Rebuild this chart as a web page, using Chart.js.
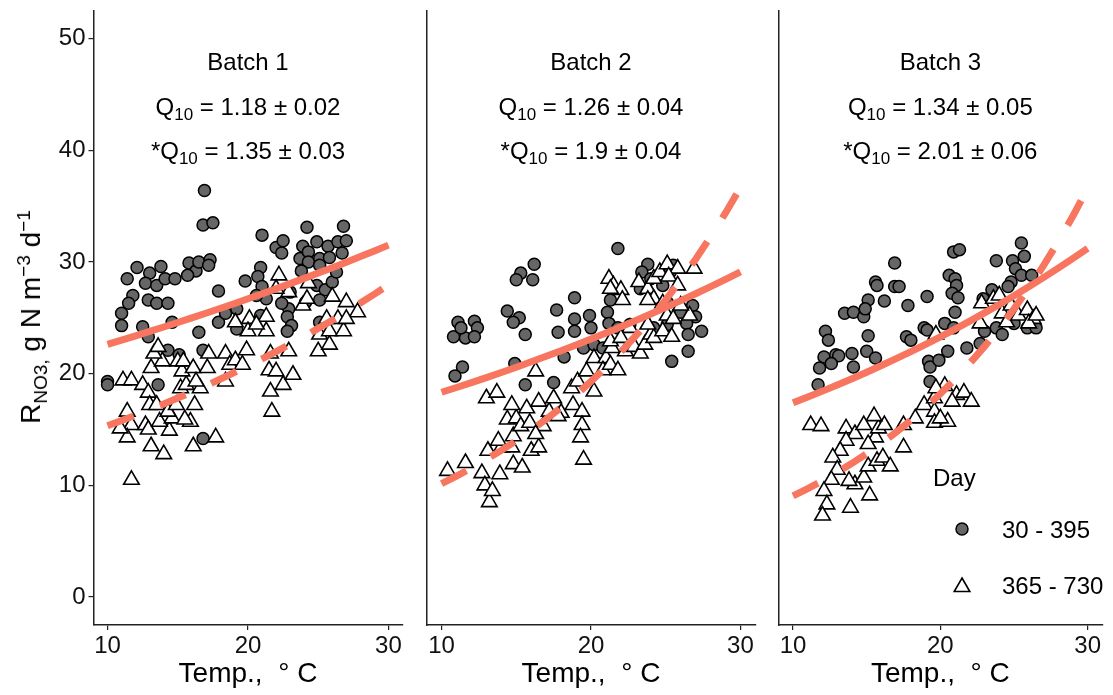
<!DOCTYPE html>
<html>
<head>
<meta charset="utf-8">
<title>Nitrate removal vs temperature</title>
<script src="https://cdn.jsdelivr.net/npm/chart.js@4.4.1/dist/chart.umd.min.js"></script>
<style>
  body { margin: 0; background: #fff; }
  #wrap { position: relative; width: 1113px; height: 695px; font-family: "Liberation Sans", Arial, sans-serif; overflow: hidden; }
  #wrap canvas { position: absolute; top: 0; }
  #ytitle {
    position: absolute; left: 31px; top: 317px;
    transform: translate(-50%, -50%) rotate(-90deg);
    white-space: nowrap; font-size: 28px; color: #000;
  }
  #ytitle sub, #ytitle sup { font-size: 19px; line-height: 0; }
</style>
</head>
<body>
<div id="wrap">
  <canvas id="batch1" width="416" height="695" style="left:0px"></canvas>
  <canvas id="batch2" width="350" height="695" style="left:416px"></canvas>
  <canvas id="batch3" width="347" height="695" style="left:766px"></canvas>
  <div id="ytitle">R<sub>NO3,</sub> g N m<sup>&minus;3</sup> d<sup>&minus;1</sup></div>
</div>
<script>
// temperature (°C), removal rate (g N m-3 d-1) pairs per batch
// "early" = days 30 - 395, "late" = days 365 - 730
const batch1Early = [[16.9,36.4],[16.8,33.3],[17.5,33.5],[21.0,32.4],[24.2,33.1],[26.8,33.2],[22.0,31.3],[22.5,31.9],[22.4,30.8],[23.9,31.4],[24.9,31.8],[25.7,31.4],[26.4,31.8],[27.0,31.9],[23.7,30.3],[24.3,30.9],[25.1,30.3],[25.8,30.4],[26.7,30.8],[24.3,30.0],[25.1,29.7],[12.1,29.5],[11.4,28.5],[13.0,29.0],[13.8,29.6],[12.7,28.1],[13.5,27.9],[14.1,28.5],[14.8,28.5],[15.8,29.9],[16.3,29.2],[15.7,28.8],[16.5,30.0],[17.3,30.2],[17.2,29.7],[11.8,27.0],[11.5,26.3],[11.0,25.4],[11.0,24.3],[12.9,26.6],[13.5,26.3],[14.3,26.3],[14.6,24.6],[12.5,24.2],[12.9,23.3],[14.3,22.1],[15.1,21.7],[16.8,22.1],[16.5,23.7],[17.9,27.4],[17.9,24.6],[18.4,25.4],[19.8,28.3],[20.9,29.5],[20.7,28.7],[21.0,27.8],[21.3,26.7],[20.6,27.0],[19.2,25.8],[19.2,24.0],[20.9,25.2],[22.9,25.8],[22.8,25.1],[23.1,24.3],[22.8,23.8],[22.4,26.3],[23.0,27.3],[23.8,29.2],[24.9,27.9],[25.5,27.5],[26.0,28.2],[26.3,29.1],[25.1,26.6],[25.1,24.6],[24.1,26.4],[10.0,19.3],[10.0,19.0],[13.6,19.0],[16.8,14.2]];
const batch1Late = [[11.7,10.5],[11.1,19.4],[11.7,19.4],[11.4,16.6],[11.7,15.4],[11.4,14.3],[10.9,15.1],[13.1,20.5],[13.9,21.1],[13.3,21.8],[13.6,22.4],[12.5,19.0],[12.9,18.3],[13.0,17.2],[13.5,17.2],[12.7,15.4],[12.9,15.0],[13.1,13.5],[14.0,12.8],[14.4,14.9],[13.7,15.7],[14.6,16.0],[14.3,16.6],[14.9,17.2],[15.2,18.7],[15.6,19.0],[15.3,20.2],[15.0,21.1],[15.4,21.1],[16.1,20.5],[16.6,18.7],[16.2,17.2],[15.9,15.7],[15.5,15.9],[16.1,13.5],[16.3,19.3],[17.1,20.5],[17.2,21.8],[17.7,14.3],[18.4,21.8],[18.4,19.3],[18.7,20.8],[19.1,21.2],[19.9,22.1],[19.6,20.8],[19.1,24.6],[20.1,24.9],[20.0,23.8],[21.3,25.1],[21.3,23.8],[20.6,24.4],[22.2,28.8],[22.9,27.3],[22.0,27.6],[21.6,21.8],[21.5,20.3],[21.6,18.4],[21.7,16.6],[22.0,20.2],[22.5,19.0],[23.2,19.9],[22.9,22.0],[23.9,26.1],[24.3,28.1],[24.2,26.7],[25.1,23.5],[25.0,22.0],[25.8,22.6],[26.0,26.9],[25.8,23.8],[26.8,23.8],[27.0,26.4],[27.8,25.5],[26.4,24.9],[27.0,24.9],[25.6,24.9]];

const batch2Early = [[21.8,31.2],[16.2,29.8],[15.3,29.0],[15.0,28.4],[16.1,28.4],[18.9,26.8],[17.7,25.7],[18.9,24.9],[19.9,25.2],[20.0,24.1],[18.9,23.8],[17.8,23.7],[15.6,23.5],[14.4,25.6],[15.2,25.0],[14.8,24.6],[11.1,24.6],[12.2,24.7],[12.4,24.1],[11.6,23.2],[10.8,23.3],[12.2,23.3],[11.3,24.1],[11.4,20.6],[10.9,19.8],[14.9,20.9],[15.6,19.0],[17.5,19.2],[18.2,21.5],[19.5,22.3],[20.2,22.6],[20.8,22.3],[21.1,25.5],[21.3,26.6],[21.2,24.5],[21.8,24.1],[22.6,24.4],[23.8,29.8],[23.4,29.1],[24.0,28.5],[23.3,27.6],[24.8,27.9],[25.3,29.1],[25.5,29.7],[25.1,26.4],[26.0,25.5],[26.8,26.1],[27.0,25.1],[26.4,24.5],[27.4,23.8],[26.5,23.5],[26.5,22.0],[25.4,21.1],[25.1,24.4],[24.2,24.1]];
const batch2Late = [[13.2,8.5],[10.4,11.3],[11.6,12.0],[12.7,11.1],[12.9,10.0],[13.4,9.5],[13.9,11.0],[13.1,13.1],[14.0,13.4],[14.8,11.9],[15.4,11.6],[14.7,13.4],[13.8,14.0],[14.8,14.4],[16.0,13.1],[16.5,13.4],[14.4,15.9],[15.0,16.0],[15.3,15.3],[15.9,15.6],[16.8,15.3],[16.3,14.6],[13.0,17.8],[13.7,18.3],[14.7,17.2],[15.7,16.9],[16.5,17.5],[17.2,16.6],[17.5,17.8],[18.0,16.5],[18.8,17.2],[18.7,18.7],[19.1,19.3],[20.2,18.4],[16.3,20.2],[19.4,16.6],[19.4,15.4],[19.3,14.3],[19.5,12.3],[17.8,16.2],[19.7,20.2],[20.2,21.4],[21.0,21.4],[20.8,20.3],[21.3,20.8],[21.8,20.3],[21.4,22.3],[21.3,22.9],[22.3,22.0],[22.9,22.4],[23.3,21.8],[23.6,22.6],[24.0,23.5],[24.2,23.2],[24.8,23.8],[25.4,23.3],[23.8,24.4],[22.6,24.1],[22.0,23.2],[21.2,28.5],[21.5,27.9],[22.0,27.5],[22.1,26.6],[21.3,27.6],[23.2,28.2],[23.8,27.6],[24.2,28.5],[24.6,29.1],[25.1,29.8],[25.8,29.4],[26.9,29.4],[25.2,28.7],[25.8,27.9],[24.2,26.7],[24.8,26.3],[23.8,26.6],[25.1,25.2],[25.5,24.9],[26.6,25.2],[26.0,26.1]];

const batch3Early = [[25.5,31.7],[25.7,30.5],[23.8,30.1],[20.9,30.9],[21.3,31.1],[16.9,29.9],[15.6,28.2],[15.7,27.9],[16.9,27.8],[17.2,27.8],[15.1,26.6],[16.2,26.5],[17.8,26.1],[19.1,26.9],[13.5,25.4],[14.1,25.5],[14.8,25.1],[14.9,25.8],[20.6,28.8],[21.0,28.5],[21.1,27.9],[20.8,27.2],[21.2,26.8],[21.0,25.5],[20.3,24.5],[20.9,24.1],[24.9,30.1],[25.1,29.4],[24.8,28.2],[25.5,28.8],[26.2,28.8],[24.6,27.8],[23.5,27.5],[22.9,26.7],[24.0,26.7],[12.2,23.8],[12.4,23.0],[15.1,23.4],[17.7,23.3],[18.0,23.0],[18.9,24.1],[19.1,23.9],[12.1,21.5],[11.8,20.5],[11.7,19.0],[12.9,21.7],[13.1,21.6],[14.0,21.8],[14.1,20.6],[15.0,22.0],[15.6,21.4],[12.6,20.9],[19.2,21.1],[19.3,20.6],[19.9,21.2],[20.5,22.0],[21.8,22.3],[22.7,22.7],[23.0,23.8],[23.8,24.1],[24.2,23.5],[25.0,24.5],[25.9,24.1],[26.5,24.1],[19.3,19.3]];
const batch3Late = [[11.2,15.4],[11.9,15.3],[13.6,15.1],[14.2,14.6],[13.6,14.0],[13.2,13.1],[12.7,12.5],[13.0,11.4],[12.6,10.5],[12.1,9.5],[12.3,8.3],[13.9,8.0],[15.2,9.1],[14.2,10.1],[13.8,10.4],[14.8,10.7],[15.1,11.7],[15.7,12.2],[16.1,12.5],[16.6,11.7],[15.6,14.3],[15.1,13.7],[15.8,15.1],[16.2,15.4],[15.5,16.2],[14.8,15.4],[17.5,15.4],[17.5,13.4],[18.3,16.0],[18.9,17.2],[19.6,16.6],[19.6,15.6],[20.5,15.7],[20.0,16.0],[19.6,17.8],[20.3,18.9],[21.1,18.1],[21.6,18.3],[22.1,17.5],[20.8,17.5],[19.7,18.7],[22.8,26.3],[22.7,24.5],[23.6,26.7],[24.0,27.0],[24.2,25.4],[24.8,26.1],[24.5,24.6],[25.3,25.2],[25.9,25.7],[26.3,24.9],[26.0,24.5],[26.5,25.2],[19.7,23.5],[12.0,7.3]];

// Q10 fits: rate at 20 °C and Q10 (± s.e.) for each batch
const batchNames = ['Batch 1', 'Batch 2', 'Batch 3'];
const rate20Early = [26.7, 23.1, 23.3];
const q10Early = [1.18, 1.26, 1.34];
const q10EarlyErr = [0.02, 0.04, 0.05];
const rate20Late = [20.7, 19.3, 18.2];
const q10Late = [1.35, 1.9, 2.01];
const q10LateErr = [0.03, 0.04, 0.06];
const fitTemps = [10, 11, 12, 13, 14, 15, 16, 17, 18, 19, 20, 21, 22, 23, 24, 25, 26, 27, 28, 29, 30];

// axis ticks and legend
const tempTicks = [10, 20, 30];
const rateTicks = [0, 10, 20, 30, 40, 50];
const legendTitle = 'Day';
const legendLabels = ['30 - 395', '365 - 730'];

const FONT = '"Liberation Sans", Arial, sans-serif';
const LINE_COLOR = '#F8765F';
const CIRCLE_FILL = '#666666';

const toPoints = (pairs) => pairs.map(([x, y]) => ({ x, y }));
const q10Curve = (rate20, q10) =>
  fitTemps.map((t) => ({ x: t, y: rate20 * Math.pow(q10, (t - 20) / 10) }));

// Q10 line with the "10" set as subscript, centred on cx
function drawQ10(ctx, cx, baseline, prefix, q, err) {
  const parts = [
    { text: prefix + 'Q', size: 24, dy: 0 },
    { text: '10', size: 17, dy: 5 },
    { text: ' = ' + q + ' \u00B1 ' + err, size: 24, dy: 0 },
  ];
  let total = 0;
  parts.forEach((p) => {
    ctx.font = p.size + 'px ' + FONT;
    p.w = ctx.measureText(p.text).width;
    total += p.w;
  });
  let x = cx - total / 2;
  ctx.textAlign = 'left';
  parts.forEach((p) => {
    ctx.font = p.size + 'px ' + FONT;
    ctx.fillText(p.text, x, baseline + p.dy);
    x += p.w;
  });
}

const facetText = {
  id: 'facetText',
  afterDatasetsDraw(chart, args, opts) {
    const { ctx } = chart;
    const x = chart.scales.x;
    const y = chart.scales.y;
    const cx = x.getPixelForValue(20);
    ctx.save();
    ctx.fillStyle = '#000';
    ctx.textBaseline = 'alphabetic';
    ctx.textAlign = 'center';
    ctx.font = '24px ' + FONT;
    ctx.fillText(batchNames[opts.i], cx, y.getPixelForValue(48) + 9);
    drawQ10(ctx, cx, y.getPixelForValue(44) + 9, '', q10Early[opts.i], q10EarlyErr[opts.i]);
    drawQ10(ctx, cx, y.getPixelForValue(40) + 9, '*', q10Late[opts.i], q10LateErr[opts.i]);
    ctx.restore();
  },
};

// legend box sitting inside the last panel
const dayLegend = {
  id: 'dayLegend',
  afterDraw(chart, args, opts) {
    if (!opts.show) return;
    const { ctx } = chart;
    ctx.save();
    ctx.fillStyle = '#000';
    ctx.textBaseline = 'alphabetic';
    ctx.textAlign = 'left';
    ctx.font = '24px ' + FONT;
    ctx.fillText(legendTitle, 167, 486);

    ctx.lineWidth = 1.5;
    ctx.strokeStyle = '#000';
    ctx.fillStyle = CIRCLE_FILL;
    Chart.helpers.drawPoint(ctx, { pointStyle: 'circle', radius: 6, borderWidth: 1.5, rotation: 0 }, 196, 529);
    ctx.fillStyle = '#fff';
    ctx.lineWidth = 1.6;
    Chart.helpers.drawPoint(ctx, { pointStyle: 'triangle', radius: 9, borderWidth: 1.6, rotation: 0 }, 196, 587);

    ctx.fillStyle = '#000';
    ctx.font = '24px ' + FONT;
    ctx.fillText(legendLabels[0], 236, 538);
    ctx.fillText(legendLabels[1], 236, 594);
    ctx.restore();
  },
};

function makeChart(canvasId, i, early, late, pad) {
  const first = i === 0;
  return new Chart(document.getElementById(canvasId), {
    type: 'scatter',
    data: {
      datasets: [
        {
          data: q10Curve(rate20Early[i], q10Early[i]),
          showLine: true, pointRadius: 0, borderColor: LINE_COLOR, borderWidth: 7,
          order: 0,
        },
        {
          data: q10Curve(rate20Late[i], q10Late[i]),
          showLine: true, pointRadius: 0, borderColor: LINE_COLOR, borderWidth: 7,
          borderDash: [28, 28], order: 0,
        },
        {
          data: toPoints(late),
          pointStyle: 'triangle', pointRadius: 9, backgroundColor: '#fff',
          borderColor: '#000', borderWidth: 1.6, order: 1,
        },
        {
          data: toPoints(early),
          pointStyle: 'circle', pointRadius: 6, backgroundColor: CIRCLE_FILL,
          borderColor: '#000', borderWidth: 1.5, order: 2,
        },
      ],
    },
    options: {
      responsive: false,
      animation: false,
      events: [],
      layout: { padding: pad },
      plugins: {
        legend: { display: false },
        tooltip: { enabled: false },
        facetText: { i },
        dayLegend: { show: i === 2 },
      },
      scales: {
        x: {
          type: 'linear', min: 9, max: 31,
          afterBuildTicks: (s) => { s.ticks = tempTicks.map((v) => ({ value: v })); },
          afterFit: (s) => { s.height = 70; s.paddingLeft = 0; s.paddingRight = 0; },
          grid: { display: true, drawOnChartArea: false, drawTicks: true, tickLength: 5, color: '#222', lineWidth: 1.2 },
          border: { display: true, color: '#222', width: 1.5 },
          ticks: { color: '#111', font: { size: 24, family: FONT }, padding: 2, maxRotation: 0 },
          title: {
            display: true, text: 'Temp.,  \u00B0 C', color: '#000',
            font: { size: 28, family: FONT }, padding: { top: 0, bottom: 4 },
          },
        },
        y: {
          type: 'linear', min: -2.5, max: 52.5,
          afterBuildTicks: (s) => { s.ticks = rateTicks.map((v) => ({ value: v })); },
          afterFit: (s) => { s.width = first ? 93.5 : 0; s.paddingTop = 0; s.paddingBottom = 0; },
          grid: first
            ? { display: true, drawOnChartArea: false, drawTicks: true, tickLength: 5, color: '#222', lineWidth: 1.2 }
            : { display: false },
          border: { display: true, color: '#222', width: 1.5 },
          ticks: { display: first, color: '#111', font: { size: 24, family: FONT }, padding: 3 },
        },
      },
    },
    plugins: [facetText, dayLegend],
  });
}

makeChart('batch1', 0, batch1Early, batch1Late, { left: 0, right: 13.5, top: 4, bottom: 0 });
makeChart('batch2', 1, batch2Early, batch2Late, { left: 9, right: 10, top: 4, bottom: 0 });
makeChart('batch3', 2, batch3Early, batch3Late, { left: 12.3, right: 4.7, top: 4, bottom: 0 });
</script>
</body>
</html>
